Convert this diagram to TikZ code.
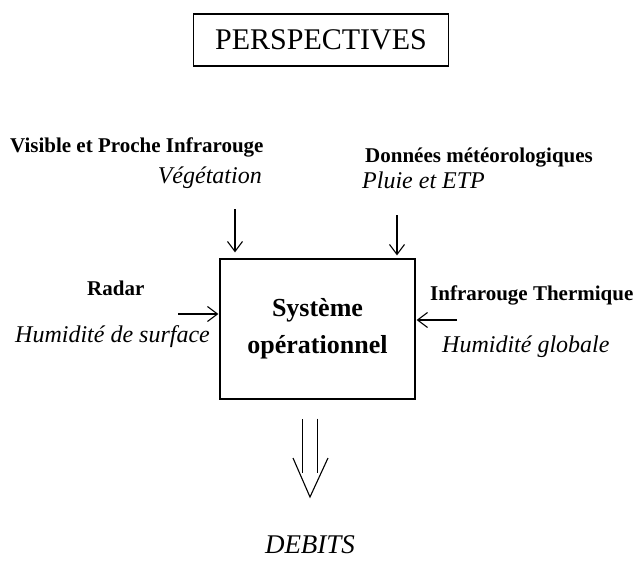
\documentclass[tikz,border=0pt]{standalone}
\usepackage{fontspec}
\setmainfont{Liberation Serif}
\usetikzlibrary{shapes,arrows,arrows.meta,positioning,calc}

\begin{document}
\begin{tikzpicture}[x=1pt,y=-1pt,
	titre/.style={font=\bfseries\fontsize{21}{24}\selectfont, inner sep=0pt},
	sous/.style={font=\itshape\fontsize{24}{28}\selectfont, inner sep=0pt},
	fleche/.style={line width=1.1pt, -{Straight Barb[length=10pt,width=15pt]}}]
		\useasboundingbox (0,0) rectangle (637,560);
		\node [draw, line width=1.2pt, minimum width=255pt, minimum height=52pt, font=\fontsize{30}{34}\selectfont] (persp) at (321,40) {PERSPECTIVES};
		\node [draw, line width=1.2pt, minimum width=195pt, minimum height=140pt, align=center, font=\bfseries\fontsize{26}{37}\selectfont] (sys) at (317.5,329) {Système\\opérationnel};
		\node [titre, anchor=base west] (vis) at (10,152) {Visible et Proche Infrarouge};
		\node [sous, anchor=base east] (veg) at (262,183) {Végétation};
		\node [titre, anchor=base west] (meteo) at (365,162) {Données météorologiques};
		\node [sous, anchor=base west] (pluie) at (362,188) {Pluie et ETP};
		\node [titre, anchor=base west] (radar) at (87,295) {Radar};
		\node [sous, anchor=base west] (humsurf) at (15,342) {Humidité de surface};
		\node [titre, anchor=base west] (irt) at (430,300) {Infrarouge Thermique};
		\node [sous, anchor=base west] (humglob) at (442,352) {Humidité globale};
		\node [font=\itshape\fontsize{27}{30}\selectfont, anchor=base] (debits) at (310,553) {DEBITS};
		\coordinate (a) at (235,209);
		\coordinate (b) at (397,215);
		\coordinate (c) at (178,314);
		\coordinate (d) at (457,320);
		\coordinate (t) at (310,497);
		\draw [fleche, shorten >=6pt] (a) -- (a |- sys.north);
		\draw [fleche, shorten >=3pt] (b) -- (b |- sys.north);
		\draw [fleche, shorten >=1pt] (c) -- (c -| sys.west);
		\draw [fleche, shorten >=1pt] (d) -- (d -| sys.east);
		\draw [line width=1.1pt, double distance=14pt, shorten <=19pt] (sys.south -| t) -- ($(t)+(0,-24)$);
		\draw [line width=1.1pt, line join=miter] ($(t)+(-17,-39)$) -- (t) -- ($(t)+(18,-39)$);
\end{tikzpicture}
\end{document}
